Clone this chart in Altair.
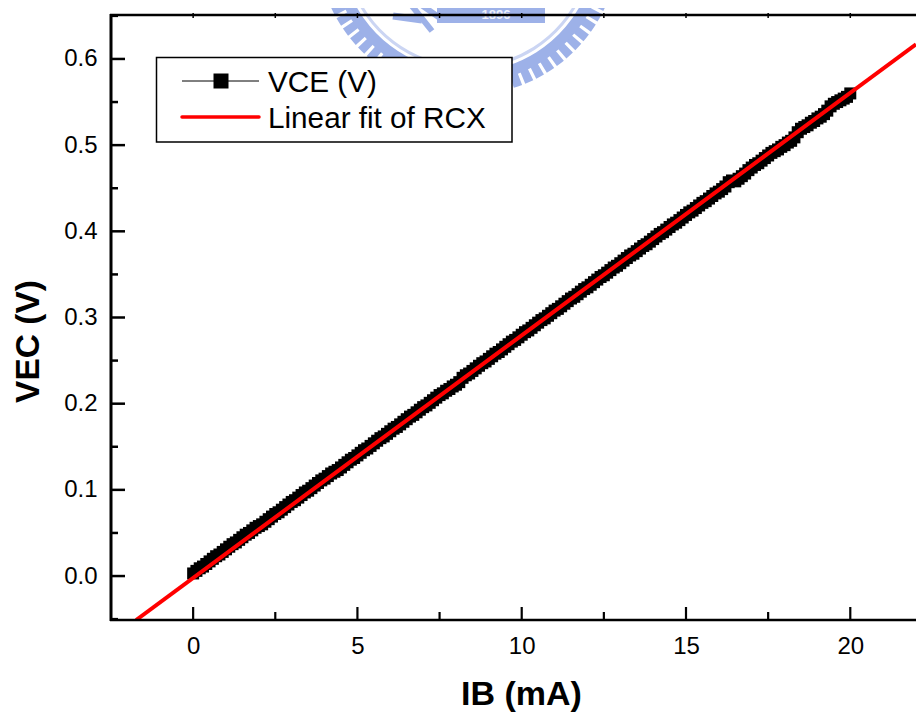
import altair as alt
import pandas as pd

ib = [i / 10 for i in range(201)]
vce = [
 .003,.006,.009,.011,.014,.017,.020,.023,.025,.028,
 .031,.034,.037,.039,.042,.045,.048,.050,.053,.056,
 .058,.060,.063,.066,.069,.072,.074,.077,.080,.083,
 .086,.088,.091,.094,.097,.099,.102,.105,.108,.111,
 .113,.116,.119,.121,.123,.126,.129,.132,.135,.137,
 .140,.143,.146,.148,.151,.154,.157,.160,.162,.165,
 .168,.171,.173,.176,.179,.182,.185,.187,.190,.193,
 .196,.198,.201,.204,.207,.210,.212,.215,.217,.220,
 .222,.225,.230,.233,.235,.238,.241,.244,.247,.249,
 .252,.255,.258,.260,.263,.266,.269,.272,.274,.277,
 .280,.283,.285,.288,.291,.294,.297,.299,.302,.305,
 .308,.310,.313,.316,.319,.322,.324,.327,.330,.333,
 .335,.338,.341,.344,.347,.349,.352,.355,.358,.360,
 .363,.366,.369,.372,.374,.377,.380,.383,.385,.388,
 .391,.394,.397,.399,.402,.405,.408,.410,.413,.416,
 .419,.422,.424,.427,.430,.433,.435,.438,.441,.444,
 .446,.449,.452,.457,.459,.458,.461,.464,.467,.471,
 .474,.477,.479,.482,.485,.488,.491,.493,.495,.498,
 .500,.503,.505,.509,.515,.519,.521,.523,.526,.528,
 .531,.533,.536,.540,.545,.548,.550,.552,.554,.556,
 .560]
fit_x = [-1.735, 22.0]
fit_y = [-0.051, 0.617]
x_major = [0, 5, 10, 15, 20]
x_minor = [2.5, 7.5, 12.5, 17.5]
y_major = [0.0, 0.1, 0.2, 0.3, 0.4, 0.5, 0.6]
y_minor = [-0.05, 0.05, 0.15, 0.25, 0.35, 0.45, 0.55, 0.65]
x_title = "IB (mA)"
y_title = "VEC (V)"
legend_labels = ["VCE (V)", "Linear fit of RCX"]

FONT = "Liberation Sans"
BLUE = "#9DB1E8"
OX, OY = 111, 15   # page position of the plot's top-left corner
W, H = 805, 605

xs = alt.Scale(domain=[-2.5, 22.0], nice=False, zero=False)
ys = alt.Scale(domain=[-0.051, 0.651], nice=False, zero=False)

def px(v): return alt.value(v - OX)
def py(v): return alt.value(v - OY)

# watermark seal behind the plot
teeth = pd.DataFrame({"a": [(113 + 4.6 * k) * 3.14159 / 180 for k in range(30)]})
teeth["b"] = teeth["a"] + 0.058
seal_teeth = alt.Chart(teeth).mark_arc(color=BLUE, radius=151, radius2=138).encode(
    theta=alt.Theta("a:Q", scale=None), theta2=alt.Theta2("b:Q"),
    x=px(468), y=py(-56))
seal_band = alt.Chart(pd.DataFrame({"a": [1.97], "b": [4.4]})).mark_arc(
    color=BLUE, radius=139, radius2=128).encode(
    theta=alt.Theta("a:Q", scale=None), theta2=alt.Theta2("b:Q"),
    x=px(468), y=py(-56))
seal_ring = alt.Chart(pd.DataFrame({"a": [1.97], "b": [4.4]})).mark_arc(
    color="#CBD5F3", radius=125, radius2=122).encode(
    theta=alt.Theta("a:Q", scale=None), theta2=alt.Theta2("b:Q"),
    x=px(468), y=py(-56))
banner = alt.Chart(pd.DataFrame({"k": [0]})).mark_rect(color=BLUE).encode(
    x=px(437), x2=px(545), y=py(-10), y2=py(23))
banner_text = alt.Chart(pd.DataFrame({"t": ["1896"]})).mark_text(
    font=FONT, fontSize=13, fontWeight="bold", color="#EEF1FB").encode(
    text="t:N", x=px(496), y=py(15))
strokes = [
    alt.Chart(pd.DataFrame({"k": [0]})).mark_rule(color=BLUE, strokeWidth=sw).encode(
        x=px(a), x2=px(c), y=py(b), y2=py(d))
    for a, b, c, d, sw in [(393, 16, 422, 20, 7), (412, 6, 432, 31, 6), (420, 4, 440, 18, 6)]
]

df = pd.DataFrame({"ib": ib, "vce": vce})
base = alt.Chart(df)
band_line = base.mark_line(color="black", strokeWidth=1).encode(
    x=alt.X("ib:Q", scale=xs, axis=alt.Axis(
        title=x_title, values=x_major, format="d", domain=False, ticks=False, grid=False,
        labelFont=FONT, labelFontSize=24, labelColor="black", labelPadding=14,
        titleFont=FONT, titleFontSize=34, titleFontWeight="bold", titleColor="black",
        titleX=521 - OX, titleY=704 - 620, titleBaseline="alphabetic", titleAlign="center")),
    y=alt.Y("vce:Q", scale=ys, axis=alt.Axis(
        title=y_title, values=y_major, format=".1f", domain=False, ticks=False, grid=False,
        labelFont=FONT, labelFontSize=24, labelColor="black", labelPadding=14,
        titleFont=FONT, titleFontSize=33.5, titleFontWeight="bold", titleColor="black",
        titleX=38 - OX, titleY=341 - OY, titleBaseline="alphabetic", titleAlign="center")))
band = base.mark_square(color="black", size=144, opacity=1).encode(
    x=alt.X("ib:Q", scale=xs), y=alt.Y("vce:Q", scale=ys))

fit = alt.Chart(pd.DataFrame({"x": fit_x, "y": fit_y})).mark_line(
    color="#FF0000", strokeWidth=4, clip=True).encode(
    x=alt.X("x:Q", scale=xs), y=alt.Y("y:Q", scale=ys))

def xticks(vals, y0, y1, sw=2.2):
    return alt.Chart(pd.DataFrame({"v": vals})).mark_rule(color="black", strokeWidth=sw).encode(
        x=alt.X("v:Q", scale=xs), y=py(y0), y2=py(y1))

def yticks(vals, x0, x1, sw=2.5):
    return alt.Chart(pd.DataFrame({"v": vals})).mark_rule(color="black", strokeWidth=sw).encode(
        y=alt.Y("v:Q", scale=ys), x=px(x0), x2=px(x1))

one = alt.Chart(pd.DataFrame({"k": [0]}))
frame = [
    one.mark_rule(color="black", strokeWidth=3).encode(x=px(111), y=py(14), y2=py(621)),
    one.mark_rule(color="black", strokeWidth=2.5).encode(x=px(110), x2=px(916), y=py(620)),
    one.mark_rule(color="black", strokeWidth=2.5).encode(x=px(110), x2=px(916), y=py(15)),
    xticks(x_major, 620, 607),
    xticks(x_minor, 620, 612),
    xticks(x_major + x_minor, 13, 18, 1.5),
    yticks(y_major, 111, 125),
    yticks(y_minor, 111, 118),
]

legend_box = one.mark_rect(fill="white", stroke="black", strokeWidth=1.5).encode(
    x=px(156.5), x2=px(512), y=py(57.5), y2=py(142))
leg_line = one.mark_rule(color="black", strokeWidth=1).encode(x=px(182), x2=px(259), y=py(81))
leg_mark = one.mark_square(color="black", size=225, opacity=1).encode(x=px(221), y=py(81))
leg_fit = one.mark_rule(color="#FF0000", strokeWidth=3.5, strokeCap="round").encode(
    x=px(182), x2=px(259), y=py(117))
leg_text = [
    alt.Chart(pd.DataFrame({"t": [t]})).mark_text(
        font=FONT, fontSize=29.7, align="left", baseline="alphabetic", color="black").encode(
        text="t:N", x=px(268), y=py(yy))
    for t, yy in zip(legend_labels, [92, 128])
]

chart = alt.layer(
    seal_teeth, seal_band, seal_ring, banner, banner_text, *strokes,
    band_line, band, fit, *frame,
    legend_box, leg_line, leg_mark, leg_fit, *leg_text
).properties(
    width=W, height=H,
    autosize=alt.AutoSizeParams(type="none"),
    padding={"left": 103, "top": 7, "right": 0, "bottom": 92},
    background="white",
).configure_view(stroke=None)

chart.save("out.html", embed_options={"renderer": "svg", "actions": False})
